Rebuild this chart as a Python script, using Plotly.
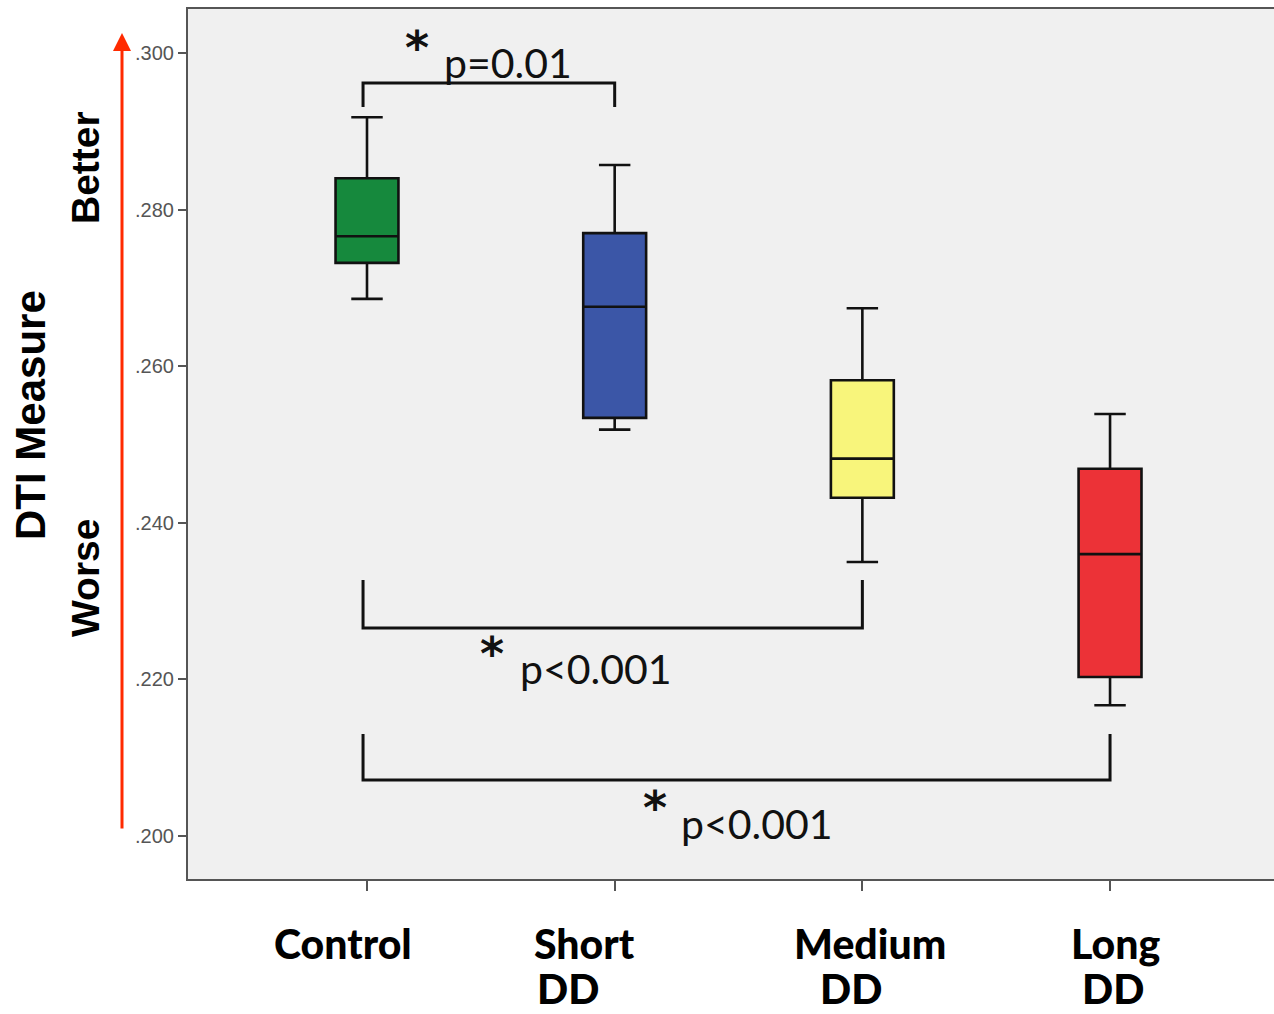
import plotly.graph_objects as go

# ---- data ----
groups = ["Control", "Short DD", "Medium DD", "Long DD"]
upper_whisker = [0.2918, 0.2857, 0.2674, 0.2539]
q3_values = [0.2840, 0.2770, 0.2582, 0.2469]
median_values = [0.2766, 0.2676, 0.2482, 0.2360]
q1_values = [0.2732, 0.2534, 0.2432, 0.2203]
lower_whisker = [0.2686, 0.2519, 0.2350, 0.2167]
box_colors = ["#16893d", "#3b56a7", "#f8f57b", "#ec3237"]

ytick_vals = [0.200, 0.220, 0.240, 0.260, 0.280, 0.300]
ytick_text = [".200", ".220", ".240", ".260", ".280", ".300"]

# significance brackets: (from group, to group, p text)
comparisons = [(0, 1, "p=0.01"), (0, 2, "p<0.001"), (0, 3, "p<0.001")]

# ---- layout geometry (pixels) ----
W, H = 1274, 1014
L, R, T, B = 188, 0, 9, 135
X_RANGE = [-0.7227, 3.662]
Y_RANGE = [0.19451, 0.30562]

def px_x(px):
    return X_RANGE[0] + (px - L) / (W - L - R) * (X_RANGE[1] - X_RANGE[0])

def px_y(py):
    return Y_RANGE[1] - (py - T) / (H - T - B) * (Y_RANGE[1] - Y_RANGE[0])

def paper_x(px):
    return (px - L) / (W - L - R)

def paper_y(py):
    return 1 - (py - T) / (H - T - B)

fig = go.Figure()
for i, g in enumerate(groups):
    fig.add_trace(go.Box(
        x=[i], q1=[q1_values[i]], median=[median_values[i]], q3=[q3_values[i]],
        lowerfence=[lower_whisker[i]], upperfence=[upper_whisker[i]],
        name=g, width=0.254, whiskerwidth=0.5, boxpoints=False,
        fillcolor=box_colors[i], line=dict(color="#111111", width=2.6),
        hoverinfo="y", showlegend=False,
    ))

# bracket geometry in pixels: (top y of ends, horizontal y, text anchors)
bracket_geom = [
    dict(end_y=107, bar_y=83, star=(417, 48), text=(508, 62)),
    dict(end_y=580, bar_y=628, star=(492, 654), text=(596, 668)),
    dict(end_y=734, bar_y=780, star=(655, 808), text=(757, 823)),
]

shapes = []
annotations = []
for (a, b, ptxt), gm in zip(comparisons, bracket_geom):
    y_end = px_y(gm["end_y"])
    y_bar = px_y(gm["bar_y"])
    xa, xb = a - 0.016, b
    shapes.append(dict(
        type="path", xref="x", yref="y",
        path=f"M {xa} {y_end} L {xa} {y_bar} L {xb} {y_bar} L {xb} {y_end}",
        line=dict(color="#111111", width=3),
    ))
    annotations.append(dict(
        x=px_x(gm["star"][0]), y=px_y(gm["star"][1]), xref="x", yref="y",
        text="<b>*</b>", showarrow=False,
        font=dict(family="DejaVu Sans", size=46, color="#111111"),
        xanchor="center", yanchor="middle",
    ))
    annotations.append(dict(
        x=px_x(gm["text"][0]), y=px_y(gm["text"][1]), xref="x", yref="y",
        text=ptxt, showarrow=False, font=dict(family="Lato", size=41, color="#111111"),
        xanchor="center", yanchor="middle",
    ))

# category labels (pixel centres)
label_lines = [
    ("Control", 343, 943),
    ("Short", 584, 943), ("DD", 568, 988),
    ("Medium", 870, 943), ("DD", 851, 988),
    ("Long", 1115, 943), ("DD", 1113, 988),
]
for txt, cx, cy in label_lines:
    annotations.append(dict(
        x=paper_x(cx), y=paper_y(cy), xref="paper", yref="paper",
        text=txt, showarrow=False,
        font=dict(family="Lato", size=41, color="#000000", weight=900),
        xanchor="center", yanchor="middle",
    ))

# y-axis side texts
side_texts = [
    ("DTI Measure", 30, 415, 42),
    ("Better", 85, 168, 39),
    ("Worse", 85, 578, 39),
]
for txt, cx, cy, fs in side_texts:
    annotations.append(dict(
        x=paper_x(cx), y=paper_y(cy), xref="paper", yref="paper",
        text=f"<b>{txt}</b>", showarrow=False, textangle=-90,
        font=dict(family="Liberation Sans", size=fs, color="#000000"),
        xanchor="center", yanchor="middle",
    ))

# red arrow
annotations.append(dict(
    x=paper_x(122), y=paper_y(33), xref="paper", yref="paper",
    ax=0, ay=830 - 33, axref="pixel", ayref="pixel",
    text="", showarrow=True, arrowhead=2, arrowsize=1.2, arrowwidth=3,
    arrowcolor="#ff2a00",
))

fig.update_layout(
    width=W, height=H,
    margin=dict(l=L, r=R, t=T, b=B, pad=0),
    paper_bgcolor="white", plot_bgcolor="#f0f0f0",
    shapes=shapes, annotations=annotations,
    xaxis=dict(
        range=X_RANGE, tickvals=list(range(len(groups))), ticktext=[""] * len(groups),
        ticks="outside", ticklen=10, tickwidth=2, tickcolor="#555555",
        showline=True, linecolor="#555555", linewidth=2, mirror=True,
        showgrid=False, zeroline=False,
    ),
    yaxis=dict(
        range=Y_RANGE, tickvals=ytick_vals, ticktext=ytick_text,
        ticks="outside", ticklen=8, tickwidth=2, tickcolor="#555555",
        tickfont=dict(family="Liberation Sans", size=20, color="#555555"),
        showline=True, linecolor="#555555", linewidth=2,
        showgrid=False, zeroline=False,
    ),
)

fig.write_html("out.html", config={"displayModeBar": False},
               post_script="document.body.style.margin='0';")
